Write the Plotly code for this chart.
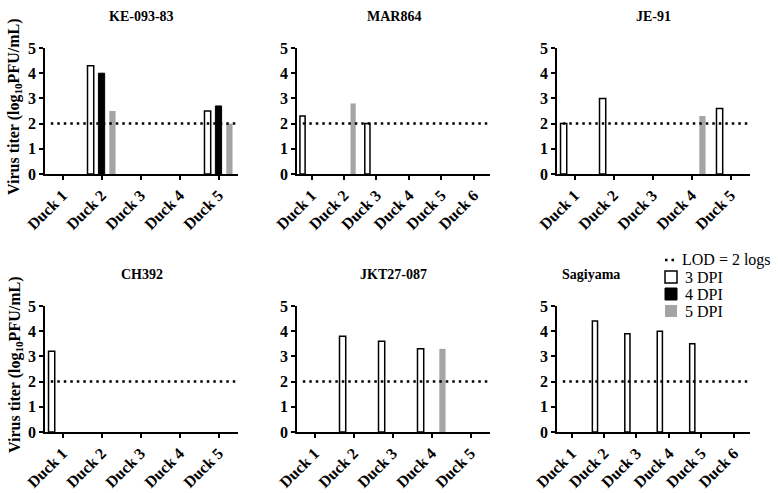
import plotly.graph_objects as go

# ---------------- data ----------------
panel_titles = ["KE-093-83", "MAR864", "JE-91", "CH392", "JKT27-087", "Sagiyama"]
ducks5 = ["Duck 1", "Duck 2", "Duck 3", "Duck 4", "Duck 5"]
ducks6 = ["Duck 1", "Duck 2", "Duck 3", "Duck 4", "Duck 5", "Duck 6"]
panel_ducks = [ducks5, ducks6, ducks5, ducks5, ducks5, ducks6]

dpi3 = [
    [None, 4.3, None, None, 2.5],
    [2.3, None, 2.0, None, None, None],
    [2.0, 3.0, None, None, 2.6],
    [3.2, None, None, None, None],
    [None, 3.8, 3.6, 3.3, None],
    [None, 4.4, 3.9, 4.0, 3.5, None],
]
dpi4 = [
    [None, 4.0, None, None, 2.7],
    [None, None, None, None, None, None],
    [None, None, None, None, None],
    [None, None, None, None, None],
    [None, None, None, None, None],
    [None, None, None, None, None, None],
]
dpi5 = [
    [None, 2.5, None, None, 2.0],
    [None, 2.8, None, None, None, None],
    [None, None, None, 2.3, None],
    [None, None, None, None, None],
    [None, None, None, 3.3, None],
    [None, None, None, None, None, None],
]
LOD = 2
y_ticks = [0, 1, 2, 3, 4, 5]
series_names = ["3 DPI", "4 DPI", "5 DPI"]
lod_name = "LOD = 2 logs"

# ---------------- layout helpers ----------------
W, H = 778, 493
FONT = "Liberation Serif"
col_px = [(45, 238), (297, 490), (557, 750)]
row_px = [(48, 174), (306, 432)]
DOT = "2.5px,4px"

def px_x(a):
    return a / W

def px_y(b):
    return 1 - b / H

fig = go.Figure()

styles = [
    dict(color="white", line=dict(color="black", width=1.5)),
    dict(color="black", line=dict(color="black", width=1)),
    dict(color="#a4a4a4", line=dict(color="#a4a4a4", width=0)),
]

annotations = []
shapes = []
for i, title in enumerate(panel_titles):
    r, c = divmod(i, 3)
    suffix = "" if i == 0 else str(i + 1)
    xa, ya = "x" + suffix, "y" + suffix
    ducks = panel_ducks[i]
    for k, vals in enumerate([dpi3[i], dpi4[i], dpi5[i]]):
        fig.add_trace(go.Bar(x=ducks, y=vals, name=series_names[k], marker=styles[k],
                             xaxis=xa, yaxis=ya, showlegend=False))
    x0, x1 = col_px[c]
    y0, y1 = row_px[r]
    fig.layout["xaxis" + suffix] = dict(
        domain=[px_x(x0), px_x(x1)], anchor=ya, type="category",
        categoryorder="array", categoryarray=ducks,
        range=[-0.45, len(ducks) - 0.5], automargin=False,
        showline=True, linecolor="black", linewidth=1.5,
        ticks="outside", ticklen=4, tickwidth=1.5, tickcolor="black",
        tickangle=-45, showgrid=False, zeroline=False,
        tickfont=dict(family=FONT, size=16, color="black", weight="bold"),
    )
    fig.layout["yaxis" + suffix] = dict(
        domain=[px_y(y1), px_y(y0)], anchor=xa, range=[0, 5], automargin=False,
        tickvals=y_ticks, showline=True, linecolor="black", linewidth=1.5,
        ticks="outside", ticklen=4, tickwidth=1.5, tickcolor="black",
        showgrid=False, zeroline=False,
        tickfont=dict(family=FONT, size=16, color="black", weight="bold"),
    )
    shapes.append(dict(type="line", xref=xa + " domain", yref=ya,
                       x0=0.03, x1=1.0, y0=LOD, y1=LOD,
                       line=dict(color="black", width=2.5, dash=DOT)))
    tx = (x0 + x1) / 2 if i != 5 else 591
    ty = 17 if r == 0 else 274
    annotations.append(dict(text="<b>%s</b>" % title, x=px_x(tx), y=px_y(ty),
                            xref="paper", yref="paper", showarrow=False,
                            xanchor="center", yanchor="middle",
                            font=dict(family=FONT, size=14, color="black")))
    if c == 0:
        annotations.append(dict(text="<b>Virus titer (log<sub>10</sub>PFU/mL)</b>",
                                x=px_x(15), y=px_y((y0 + y1) / 2 - 4),
                                xref="paper", yref="paper", showarrow=False,
                                textangle=-90, xanchor="center", yanchor="middle",
                                font=dict(family=FONT, size=16, color="black")))

# ---------------- legend (drawn as key swatches + labels) ----------------
leg_rows = [260, 277, 294, 311]
leg_sym_x = (665, 677)
leg_text_x = 680
shapes.append(dict(type="line", xref="paper", yref="paper",
                   x0=px_x(leg_sym_x[0]), x1=px_x(leg_sym_x[1]),
                   y0=px_y(leg_rows[0]), y1=px_y(leg_rows[0]),
                   line=dict(color="black", width=2.5, dash=DOT)))
annotations.append(dict(text=lod_name, x=px_x(leg_text_x), y=px_y(leg_rows[0]),
                        xref="paper", yref="paper", showarrow=False,
                        xanchor="left", yanchor="middle",
                        font=dict(family=FONT, size=16, color="black")))
for k, name in enumerate(series_names):
    yc = leg_rows[k + 1]
    st = styles[k]
    lw = st["line"]["width"]
    shapes.append(dict(type="rect", xref="paper", yref="paper",
                       x0=px_x(leg_sym_x[0]), x1=px_x(leg_sym_x[1]),
                       y0=px_y(yc + 6), y1=px_y(yc - 6),
                       fillcolor=st["color"],
                       line=dict(color=st["line"]["color"], width=max(lw, 0.01))))
    annotations.append(dict(text=name, x=px_x(leg_text_x + 3), y=px_y(yc),
                            xref="paper", yref="paper", showarrow=False,
                            xanchor="left", yanchor="middle",
                            font=dict(family=FONT, size=16, color="black")))

fig.update_layout(
    width=W, height=H, margin=dict(l=0, r=0, t=0, b=0, autoexpand=False),
    paper_bgcolor="white", plot_bgcolor="white",
    barmode="group", bargap=0.16, bargroupgap=0.43,
    annotations=annotations, shapes=shapes, showlegend=False,
    font=dict(family=FONT, color="black"),
)

fig.write_html("out.html", config={"displayModeBar": False},
               post_script="document.body.style.margin='0px';")
